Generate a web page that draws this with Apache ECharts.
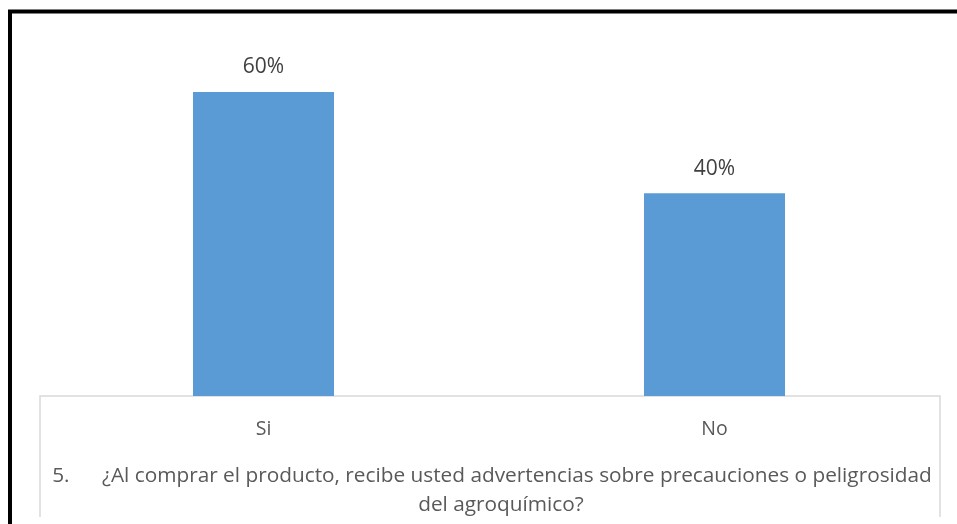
<!DOCTYPE html>
<html>
<head>
<meta charset="utf-8">
<script src="https://cdn.jsdelivr.net/npm/echarts@6/dist/echarts.min.js"></script>
<style>
  html, body { margin: 0; padding: 0; background: #fff; }
  #main { width: 957px; height: 524px; }
</style>
</head>
<body>
<div id="main"></div>
<script>
// datos de la pregunta 5
var categorias = ['Si', 'No'];
var valores = [0.60, 0.40];
var tituloLinea1 = '5.      ¿Al comprar el producto, recibe usted advertencias sobre precauciones o peligrosidad';
var tituloLinea2 = 'del agroquímico?';

var chart = echarts.init(document.getElementById('main'));
var fuente = '"Open Sans", sans-serif';
var estiloTitulo = {
  fontFamily: fuente,
  fontSize: 20.8,
  fontWeight: 'normal',
  color: '#595959',
  lineHeight: 29
};

var option = {
  backgroundColor: '#fff',
  animation: false,
  title: [
    { text: tituloLinea1, left: 487, top: 457, textAlign: 'center', textStyle: estiloTitulo },
    { text: tituloLinea2, left: 496, top: 486, textAlign: 'center', textStyle: estiloTitulo }
  ],
  grid: {
    left: 38,
    right: 17,
    top: 92,
    bottom: 128
  },
  xAxis: {
    type: 'category',
    data: categorias,
    axisLine: { show: false },
    axisTick: { show: false },
    axisLabel: {
      margin: 23,
      fontFamily: fuente,
      fontSize: 19.5,
      color: '#595959'
    }
  },
  yAxis: {
    type: 'value',
    min: 0,
    max: 0.6,
    show: false,
    splitLine: { show: false }
  },
  graphic: [
    {
      type: 'polyline',
      z: -1,
      shape: { points: [[40, 517], [40, 396], [940, 396], [940, 517]] },
      style: { fill: 'none', stroke: '#d9d9d9', lineWidth: 1.5 }
    },
    {
      type: 'rect',
      z: 10,
      shape: { x: 10, y: 11.5, width: 960, height: 540 },
      style: { fill: 'none', stroke: '#000', lineWidth: 4 }
    }
  ],
  series: [
    {
      type: 'bar',
      data: valores,
      barWidth: 141,
      itemStyle: { color: '#5b9bd5' },
      label: {
        show: true,
        position: 'top',
        distance: 14,
        fontFamily: fuente,
        fontSize: 21,
        color: '#404040',
        formatter: function (p) { return Math.round(p.value * 100) + '%'; }
      }
    }
  ]
};

chart.setOption(option);
</script>
</body>
</html>
